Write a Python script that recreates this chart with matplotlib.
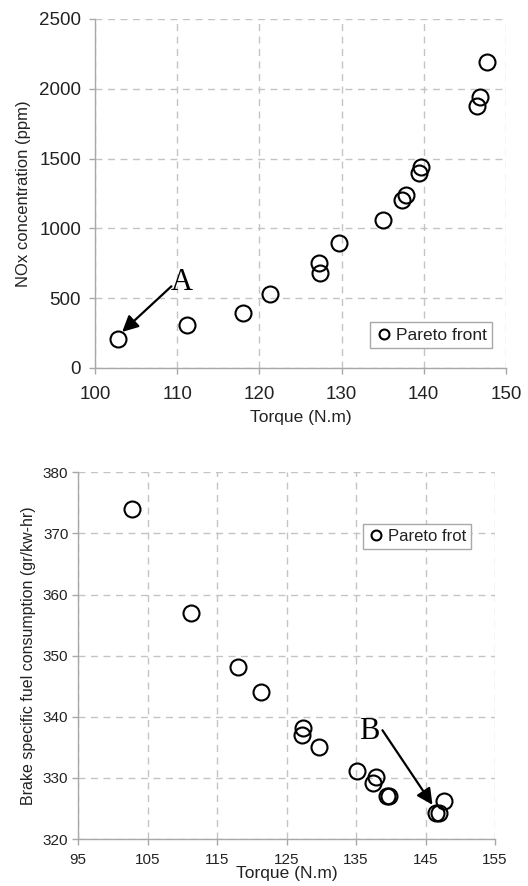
import numpy as np
from matplotlib import pyplot as plt

plt.rcParams['font.family'] = ['Liberation Sans', 'DejaVu Sans']

# Pareto front points
torque = [102.8, 111.2, 118.0, 121.3, 127.2, 127.4, 129.7, 135.1,
          137.4, 137.9, 139.4, 139.7, 146.5, 146.9, 147.7]
nox = [208, 308, 396, 530, 754, 683, 893, 1060,
       1203, 1239, 1399, 1442, 1879, 1943, 2189]
bsfc = [374, 357, 348.1, 344, 337, 338.2, 335, 331.1,
        329.2, 330.1, 327, 327, 324.2, 324.2, 326.2]

nox_ticks = [0, 500, 1000, 1500, 2000, 2500]
torque_ticks_top = [100, 110, 120, 130, 140, 150]
bsfc_ticks = [320, 330, 340, 350, 360, 370, 380]
torque_ticks_bot = [95, 105, 115, 125, 135, 145, 155]

txt = '#222222'
fig = plt.figure(figsize=(5.28, 8.86), dpi=100)

def style(ax, fs, xpad, ypad):
    ax.grid(True, color='#c4c4c4', linestyle=(0, (5, 4)), linewidth=1.0)
    ax.set_axisbelow(True)
    for s in ['top', 'right']:
        ax.spines[s].set_visible(False)
    for s in ['left', 'bottom']:
        ax.spines[s].set_color('#a8a8a8')
        ax.spines[s].set_linewidth(1.0)
    ax.tick_params(colors='#a8a8a8', labelcolor=txt, labelsize=fs,
                   length=4, width=1.0)
    ax.tick_params(axis='x', pad=xpad)
    ax.tick_params(axis='y', pad=ypad)

arrow = dict(arrowstyle='-|>', color='black', lw=1.6,
             mutation_scale=24, shrinkA=0, shrinkB=0)

# top: NOx vs torque
ax1 = fig.add_axes([0.180, 0.5847, 0.778, 0.394])
ax1.plot(torque, nox, 'o', mfc='none', mec='black', mew=1.5, ms=11.5,
         label='Pareto front', clip_on=False)
ax1.set_xlim(100, 150)
ax1.set_ylim(0, 2500)
ax1.set_xticks(torque_ticks_top)
ax1.set_yticks(nox_ticks)
style(ax1, 13.5, 9, 6)
ax1.set_xlabel('Torque (N.m)', fontsize=12.5, labelpad=5, color=txt)
ax1.set_ylabel('NOx concentration (ppm)', fontsize=12, labelpad=6, color=txt)
leg = ax1.legend(loc='lower right', bbox_to_anchor=(0.966, 0.057), fontsize=12.5,
                 markerscale=0.62, handletextpad=0.2, handlelength=1.0,
                 fancybox=False, edgecolor='#a8a8a8', framealpha=1,
                 borderpad=0.3, borderaxespad=0)
leg.get_frame().set_linewidth(1.0)
for t in leg.get_texts():
    t.set_color(txt)
ax1.text(110.6, 610, 'A', fontsize=22, family='Liberation Serif',
         ha='center', va='center')
ax1.annotate('', xy=(103.3, 258), xytext=(109.3, 585), arrowprops=arrow)

# bottom: BSFC vs torque
ax2 = fig.add_axes([0.148, 0.053, 0.7895, 0.4139])
ax2.plot(torque, bsfc, 'o', mfc='none', mec='black', mew=1.5, ms=11.5,
         label='Pareto frot', clip_on=False)
ax2.set_xlim(95, 155)
ax2.set_ylim(320, 380)
ax2.set_xticks(torque_ticks_bot)
ax2.set_yticks(bsfc_ticks)
style(ax2, 11, 6, 3)
ax2.set_xlabel('Torque (N.m)', fontsize=12.5, labelpad=-1, color=txt)
ax2.set_ylabel('Brake specific fuel consumption (gr/kw-hr)', fontsize=11.5,
               labelpad=5, color=txt)
leg2 = ax2.legend(loc='upper right', bbox_to_anchor=(0.942, 0.859), fontsize=12,
                  markerscale=0.62, handletextpad=0.2, handlelength=1.0,
                  fancybox=False, edgecolor='#a8a8a8', framealpha=1,
                  borderpad=0.3, borderaxespad=0)
leg2.get_frame().set_linewidth(1.0)
for t in leg2.get_texts():
    t.set_color(txt)
ax2.text(136.9, 337.6, 'B', fontsize=22, family='Liberation Serif',
         ha='center', va='center')
ax2.annotate('', xy=(146.0, 325.6), xytext=(138.8, 337.8), arrowprops=arrow)

fig.savefig('out.png', dpi=100)
